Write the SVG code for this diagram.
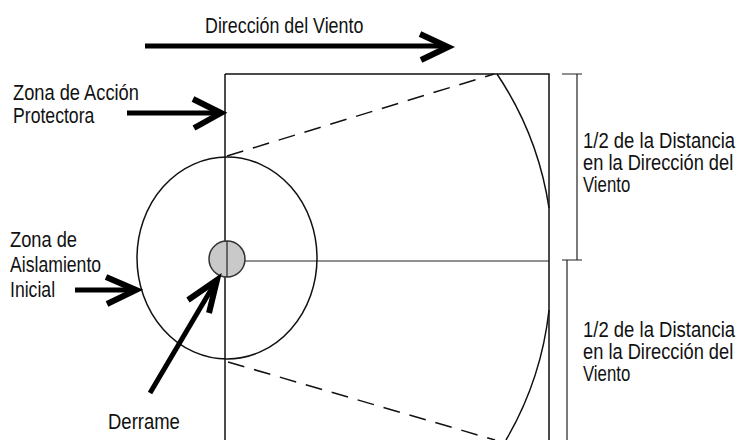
<svg xmlns="http://www.w3.org/2000/svg" width="739" height="440" viewBox="0 0 739 440">
<style>
.t{font-family:"Liberation Sans",Arial,sans-serif;font-size:21.5px;fill:#111}
.ln{fill:none;stroke:#111;stroke-width:1.5}
.thin{fill:none;stroke:#222;stroke-width:1.2}
.dash{fill:none;stroke:#111;stroke-width:1.5;stroke-dasharray:17 10}
.arr{fill:none;stroke:#000;stroke-width:5}
.head{fill:none;stroke:#000;stroke-width:6;stroke-linejoin:miter;stroke-miterlimit:8}
</style>
<rect width="739" height="440" fill="#fff"/>
<g id="zona-proteccion">
  <path class="ln" d="M225,74 H549 V440"/>
  <path class="ln" d="M225,74 V440"/>
  <path class="dash" d="M227,156 L494,74"/>
  <path class="dash" d="M228,362 L495,440"/>
  <path class="ln" d="M497,74 A328,328 0 0 1 549,208"/>
  <path class="ln" d="M549,310 A328,328 0 0 1 506,440"/>
  <path class="thin" d="M227,261 H549"/>
</g>
<g id="zona-aislamiento">
  <ellipse class="ln" cx="227" cy="258" rx="90" ry="101"/>
</g>
<g id="derrame-punto">
  <circle cx="227" cy="259" r="18" fill="#c9c9c9" stroke="#333" stroke-width="1.5"/>
  <path class="thin" d="M227,241 V277"/>
</g>
<g id="dimensiones">
  <path class="thin" d="M562,74 H582 M577,74 V260 M562,260 H582 M567,260 V440"/>
</g>
<g id="label-viento">
  <text class="t" transform="translate(205,33) scale(0.83,1)">Dirección del Viento</text>
</g>
<g id="label-accion">
  <text class="t" transform="translate(13,100) scale(0.85,1)">Zona de Acción</text>
  <text class="t" transform="translate(13,123) scale(0.82,1)">Protectora</text>
</g>
<g id="label-aislamiento">
  <text class="t" transform="translate(10,247) scale(0.85,1)">Zona de</text>
  <text class="t" transform="translate(10,272) scale(0.82,1)">Aislamiento</text>
  <text class="t" transform="translate(10,297) scale(0.82,1)">Inicial</text>
</g>
<g id="label-derrame">
  <text class="t" transform="translate(108,429) scale(0.86,1)">Derrame</text>
</g>
<g id="label-distancia-1">
  <text class="t" transform="translate(583,148) scale(0.86,1)">1/2 de la Distancia</text>
  <text class="t" transform="translate(583,170) scale(0.85,1)">en la Dirección del</text>
  <text class="t" transform="translate(583,192) scale(0.78,1)">Viento</text>
</g>
<g id="label-distancia-2">
  <text class="t" transform="translate(583,337) scale(0.86,1)">1/2 de la Distancia</text>
  <text class="t" transform="translate(583,359) scale(0.85,1)">en la Dirección del</text>
  <text class="t" transform="translate(583,381) scale(0.78,1)">Viento</text>
</g>
<g id="connectors">
  <path class="arr" d="M145,46 H446"/>
  <path class="head" d="M420,34 L448,47 L421,60"/>
  <path class="arr" d="M127,113 H220"/>
  <path class="head" d="M193,99 L221,113 L194,128"/>
  <path class="arr" d="M75,290 H135"/>
  <path class="head" d="M106,277 L136,290 L107,304"/>
  <path class="arr" d="M150,393 L215,283"/>
  <path class="head" d="M188,300 L217,280 L209,313"/>
</g>
</svg>
